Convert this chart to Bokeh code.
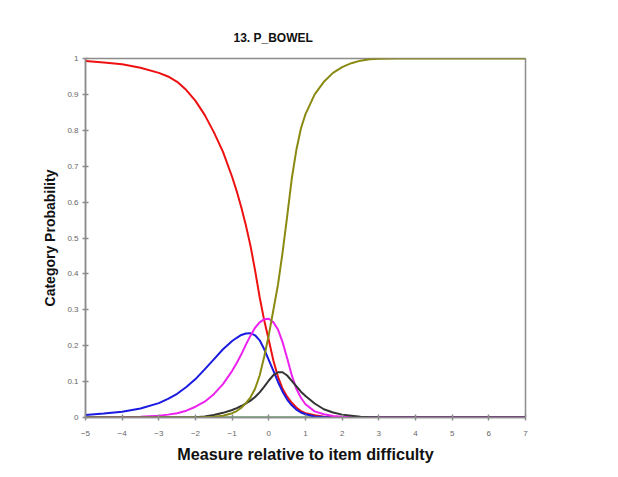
from bokeh.plotting import figure
from bokeh.models import Range1d, FixedTicker
from bokeh.embed import file_html
from bokeh.resources import INLINE

# Measure relative to item difficulty
xs = [-5, -4.5, -4, -3.5, -3, -2.75, -2.5, -2.25, -2, -1.75, -1.5, -1.25,
      -1, -0.875, -0.75, -0.625, -0.5, -0.375, -0.25, -0.125,
      0, 0.125, 0.25, 0.375, 0.5, 0.625, 0.75, 0.875,
      1, 1.25, 1.5, 1.75, 2, 2.25, 2.5, 2.75, 3, 3.5, 4, 5, 6, 7]

# Category probability curves
cat_red = [0.993, 0.989, 0.984, 0.974, 0.960, 0.950, 0.935, 0.912, 0.882, 0.843, 0.795, 0.740,
           0.670, 0.630, 0.585, 0.535, 0.478, 0.41, 0.335, 0.27,
           0.215, 0.158, 0.113, 0.08, 0.058, 0.041, 0.028, 0.018,
           0.012, 0.006, 0.002, 0.001, 0.0005, 0, 0, 0, 0, 0, 0, 0, 0, 0]
cat_blue = [0.007, 0.011, 0.016, 0.025, 0.040, 0.052, 0.066, 0.085, 0.107, 0.134, 0.162, 0.19,
            0.213, 0.222, 0.230, 0.234, 0.235, 0.229, 0.215, 0.19,
            0.16, 0.13, 0.099, 0.072, 0.05, 0.034, 0.022, 0.014,
            0.009, 0.003, 0.0015, 0.0005, 0, 0, 0, 0, 0, 0, 0, 0, 0, 0]
cat_magenta = [0, 0.0005, 0.001, 0.002, 0.005, 0.008, 0.012, 0.019, 0.03, 0.044, 0.065, 0.093,
               0.13, 0.152, 0.176, 0.203, 0.228, 0.25, 0.265, 0.274,
               0.275, 0.265, 0.245, 0.21, 0.165, 0.118, 0.08, 0.055,
               0.037, 0.017, 0.009, 0.004, 0.002, 0.001, 0.0005, 0, 0, 0, 0, 0, 0, 0]
cat_black = [0, 0, 0, 0, 0, 0, 0, 0, 0.001, 0.003, 0.007, 0.013,
             0.021, 0.026, 0.032, 0.039, 0.047, 0.057, 0.07, 0.086,
             0.103, 0.118, 0.126, 0.126, 0.117, 0.102, 0.087, 0.072,
             0.06, 0.039, 0.023, 0.014, 0.008, 0.005, 0.002, 0.001, 0.0005, 0, 0, 0, 0, 0]
cat_olive = [0, 0, 0, 0, 0, 0, 0, 0, 0, 0.001, 0.002, 0.005,
             0.012, 0.018, 0.027, 0.04, 0.056, 0.08, 0.117, 0.17,
             0.23, 0.3, 0.37, 0.46, 0.56, 0.665, 0.745, 0.805,
             0.845, 0.9, 0.935, 0.96, 0.976, 0.987, 0.994, 0.998, 0.999, 1, 1, 1, 1, 1]
cat_green = [0] * len(xs)

x_ticks = [-5, -4, -3, -2, -1, 0, 1, 2, 3, 4, 5, 6, 7]
y_ticks = [0, 0.1, 0.2, 0.3, 0.4, 0.5, 0.6, 0.7, 0.8, 0.9, 1]
y_tick_labels = ["0", "0.1", "0.2", "0.3", "0.4", "0.5", "0.6", "0.7", "0.8", "0.9", "1"]

FONT = "Liberation Sans"

p = figure(frame_width=440, frame_height=359,
           x_range=Range1d(-5, 7), y_range=Range1d(0, 1),
           output_backend="svg", toolbar_location=None,
           min_border_left=85, min_border_right=85, min_border_top=58, min_border_bottom=52,
           title="13. P_BOWEL")

p.background_fill_color = "white"
p.border_fill_color = "white"
p.outline_line_color = "#8c8c8c"
p.outline_line_width = 1.5
p.xgrid.visible = False
p.ygrid.visible = False

p.title.text_font = FONT
p.title.text_font_size = "12px"
p.title.text_font_style = "bold"
p.title.text_color = "#111111"
p.title.align = "left"
p.title.offset = 148
p.title.vertical_align = "top"
p.title.standoff = 24

for ax in (p.xaxis[0], p.yaxis[0]):
    ax.axis_line_color = "#8c8c8c"
    ax.axis_line_width = 1.5
    ax.major_tick_line_color = "#8c8c8c"
    ax.major_tick_line_width = 1.5
    ax.major_tick_in = 3
    ax.major_tick_out = 3
    ax.minor_tick_line_color = None
    ax.major_label_text_font = FONT
    ax.major_label_text_font_size = "8px"
    ax.major_label_text_color = "#666666"
    ax.axis_label_text_font = FONT
    ax.axis_label_text_font_style = "bold"
    ax.axis_label_text_color = "#111111"

p.xaxis.ticker = FixedTicker(ticks=x_ticks)
p.yaxis.ticker = FixedTicker(ticks=y_ticks)
p.yaxis.major_label_overrides = {t: l for t, l in zip(y_ticks, y_tick_labels)}
p.xaxis.major_label_standoff = 10
p.yaxis.major_label_standoff = 4
p.xaxis.axis_label = "Measure relative to item difficulty"
p.xaxis.axis_label_text_font_size = "16.2px"
p.xaxis.axis_label_standoff = 6
p.yaxis.axis_label = "Category Probability"
p.yaxis.axis_label_text_font_size = "14px"
p.yaxis.axis_label_standoff = 6

p.line(xs, cat_green, line_color="#2e8b2e", line_width=2)
p.line(xs, cat_red, line_color="#ee1111", line_width=2)
p.line(xs, cat_blue, line_color="#1a1ae0", line_width=2)
p.line(xs, cat_magenta, line_color="#ee22ee", line_width=2)
p.line(xs, cat_black, line_color="#333333", line_width=2)
p.line(xs, cat_olive, line_color="#8a8a12", line_width=2)

open("out.html", "w").write(file_html(p, INLINE))
